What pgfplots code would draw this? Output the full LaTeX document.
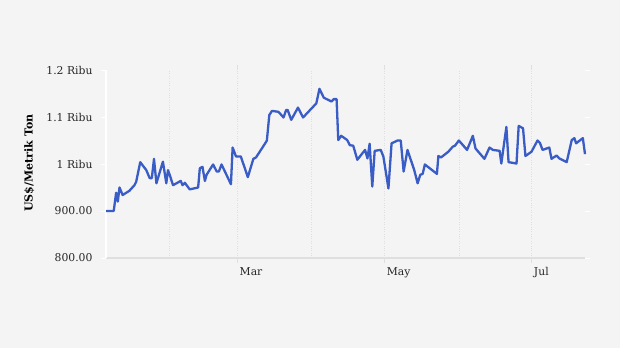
\documentclass[border=0pt]{standalone}
\usepackage{pgfplots}
\pgfplotsset{compat=1.18}
\usepackage{fontspec}
\setmainfont{DejaVu Serif}
\definecolor{bgc}{HTML}{F4F4F4}
\definecolor{linec}{HTML}{3A5CC5}
\definecolor{gridc}{HTML}{DFDFDF}
\begin{document}
\begin{tikzpicture}[x=1bp,y=1bp]
\fill[bgc] (0,0) rectangle (620,348);
\useasboundingbox (0,0) rectangle (620,348);
\begin{axis}[
  at={(106bp,90bp)}, anchor=south west,
  scale only axis, width=479bp, height=188bp,
  xmin=4.6, xmax=203.2, ymin=800, ymax=1200,
  axis line style={draw=none},
  xtick={59,120,181}, xticklabels={Mar,May,Jul},
  minor xtick={31,90,151},
  ytick={800,900,1000,1100,1200},
  yticklabels={800.00,900.00,1 Ribu,1.1 Ribu,1.2 Ribu},
  xmajorgrids, xminorgrids,
  major grid style={gridc, dotted, line width=1pt},
  minor grid style={gridc, dotted, line width=1pt},
  major tick length=5bp, minor tick length=0bp,
  xtick style={gridc, line width=1pt},
  ytick style={white, line width=1pt},
  tick align=outside,
  tick label style={font=\fontsize{10.8bp}{12bp}\selectfont, text=black!85},
  yticklabel style={xshift=-5bp},
  xticklabel style={anchor=north west, xshift=-1bp, yshift=-1bp},
  ylabel={\textbf{US\$/Metrik Ton}},
  ylabel style={at={(axis description cs:-0.16,0.505)}, anchor=center, font=\fontsize{11bp}{13bp}\selectfont},
  clip=false,
]
\draw[gridc, line width=1.2pt] (axis cs:4.6,800) -- (axis cs:203.2,800);
\draw[white, line width=1.3pt] (axis cs:4.6,800) -- (axis cs:4.6,1200);
\addplot[linec, line width=2.3bp, line join=round, no markers] coordinates {
(4.6,900) (7.8,900) (8.8,939) (9.5,920) (10.2,950) (11.5,934) (14.3,943) (16.4,955) (17.1,962)
(18.8,1004) (21.3,987) (22.7,970) (23.6,970) (24.5,1011) (25.5,959) (28.2,1005) (29.6,959)
(30.3,987) (31,977) (32.4,955) (35.6,964) (36.3,955) (37.3,960) (39.3,946) (42.8,950)
(43.5,991) (44.6,994) (45.6,964) (46.3,977) (49,999) (50.5,984) (51.4,984) (52.5,999)
(56.4,957) (57.1,1035) (58.5,1016) (60.5,1016) (63.4,972) (65.7,1011) (66.8,1014)
(70.6,1044) (71.3,1050) (72.3,1104) (73.4,1113) (76.1,1111) (78.2,1099) (79.3,1115)
(79.9,1115) (81.4,1094) (84.2,1120) (86.3,1099) (91.8,1129) (93.1,1160) (94.9,1141)
(98.1,1133) (99,1138) (100.2,1138) (100.9,1051) (102.1,1060) (104.6,1051) (105.7,1040)
(107.1,1039) (108.8,1009) (112,1030) (113,1012) (113.9,1043) (115,952) (116,1028)
(118.5,1030) (119.6,1016) (121.7,948) (123,1044) (125.5,1050) (126.8,1050) (128,984)
(129.6,1030) (132.4,987) (133.8,959) (134.9,977) (135.9,979) (136.8,999) (141.8,979)
(142.4,1017) (143.5,1014) (146.5,1026) (148.4,1037) (149.3,1039) (150.9,1050) (154.3,1030)
(156.7,1060) (157.8,1033) (161.5,1011) (163.6,1035) (165,1030) (167.8,1028) (168.5,1001)
(170.6,1079) (171.5,1004) (174.8,1001) (175.7,1081) (177.5,1076) (178.5,1017) (181,1026)
(183.5,1050) (184.5,1045) (185.6,1030) (188.4,1035) (189.3,1011) (191.4,1018) (192.5,1012)
(195.6,1004) (197.7,1051) (198.8,1055) (199.5,1044) (202.3,1055) (203.2,1021)
};
\end{axis}
\end{tikzpicture}
\end{document}
